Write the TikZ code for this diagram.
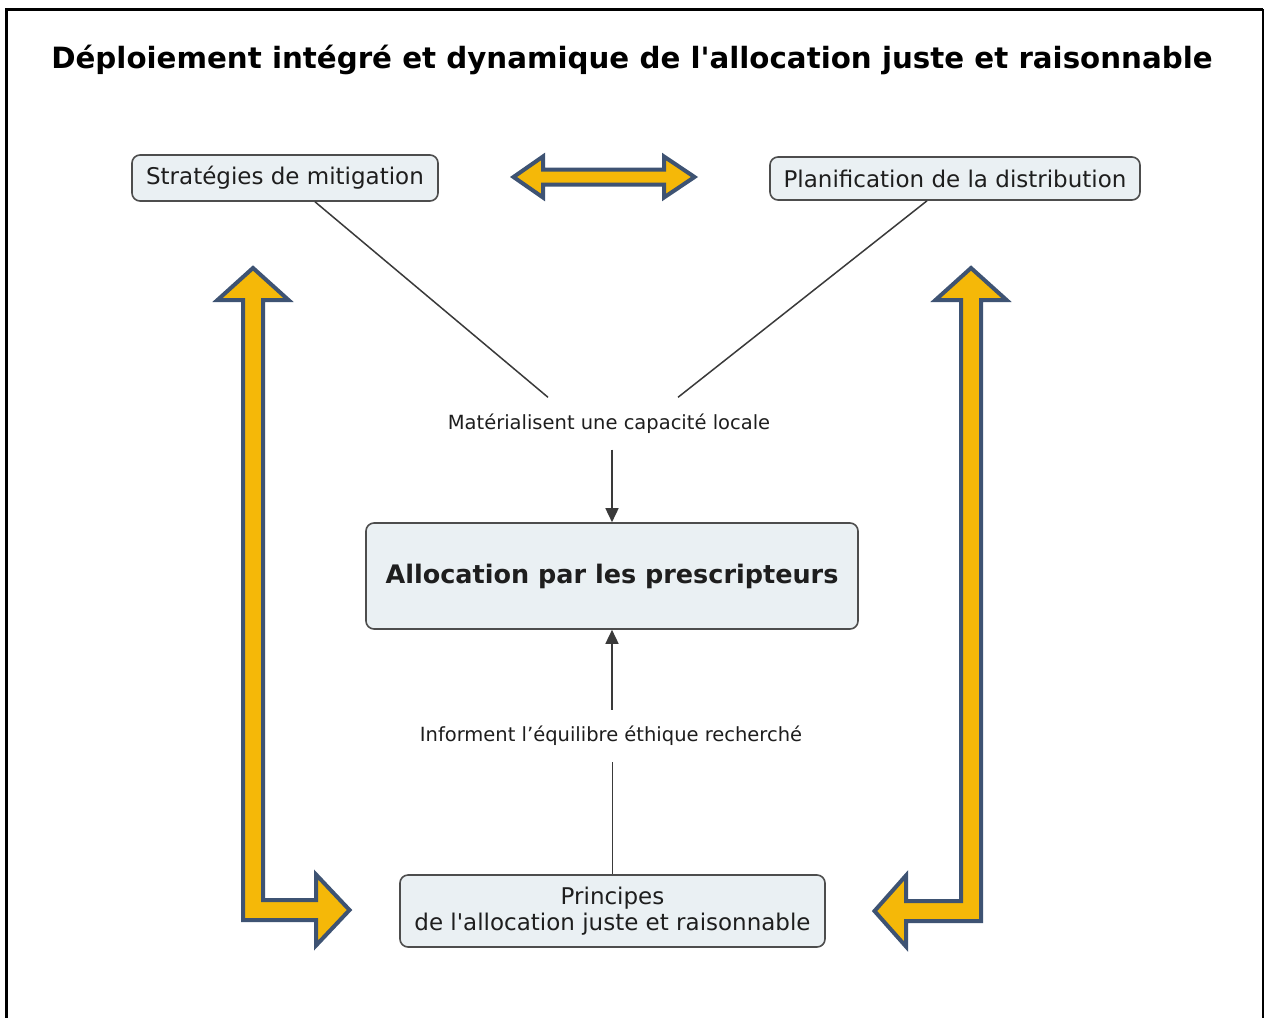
\documentclass[tikz,border=0pt]{standalone}
\usepackage{fontspec}
\setmainfont{DejaVu Sans}
\usetikzlibrary{arrows.meta,calc}
\definecolor{boxfill}{HTML}{EAF0F3}
\definecolor{boxline}{HTML}{4D4D4D}
\definecolor{gold}{HTML}{F5B808}
\definecolor{slate}{HTML}{3E5373}
\definecolor{conncol}{HTML}{3A3A3A}
\definecolor{txt}{HTML}{1E1E1E}
\begin{document}
\begin{tikzpicture}[x=1pt,y=-1pt,
  box/.style={draw=boxline, line width=1.6pt, fill=boxfill, rounded corners=8pt, inner sep=0pt, text=txt, align=center},
  lab/.style={inner sep=0pt, minimum height=52pt, text=txt, font=\fontsize{19.5}{23}\selectfont},
  conn/.style={draw=conncol, line width=1.5pt},
  tip/.style={-{Triangle[length=14pt,width=13pt]}},
  bigarrow/.style={fill=gold, draw=slate, line width=4pt, line join=miter}]
\useasboundingbox (0,0) rectangle (1265,1017);
\fill[white] (0,0) rectangle (1265,1017);
% frame
\draw[line width=3pt] (6,1020) -- (6,9) -- (1263,9);
\draw[line width=2pt] (1263,9) -- (1263,1020);
% title
\node[font=\fontsize{29.3}{34}\selectfont\bfseries, anchor=base, inner sep=0pt] (title) at (632,68) {Déploiement intégré et dynamique de l\textquotesingle allocation juste et raisonnable};
% boxes
\node[box, minimum width=306pt, minimum height=46pt, font=\fontsize{23}{27}\selectfont] (s1) at (285,178) {Stratégies de mitigation};
\node[box, minimum width=370pt, minimum height=43pt, font=\fontsize{23}{27}\selectfont] (s2) at (955,178.5) {Planification de la distribution};
\node[box, minimum width=492pt, minimum height=106pt, font=\fontsize{25.5}{30}\selectfont\bfseries] (cb) at (612,576) {Allocation par les prescripteurs};
\node[box, minimum width=425pt, minimum height=72pt, font=\fontsize{23}{26.5}\selectfont] (pb) at (612.5,911) {Principes\\de l\textquotesingle allocation juste et raisonnable};
% labels
\node[lab] (l1) at (609,423.5) {Matérialisent une capacité locale};
\node[lab] (l2) at (611,736) {Informent l’équilibre éthique recherché};
% connectors
\draw[conn] ([xshift=30pt]s1.south) -- ([xshift=-61pt]l1.north);
\draw[conn] ([xshift=-28pt]s2.south) -- ([xshift=69pt]l1.north);
\draw[conn, tip] (l1.south -| cb.north) -- (cb.north);
\draw[conn, tip] (l2.north -| cb.south) -- (cb.south);
\draw[conn] (l2.south -| pb.north) -- (pb.north);
% big arrows
\draw[bigarrow] (513.5,177) -- (543,156.5) -- (543,169.5) -- (664,169.5) -- (664,156.5) -- (694.5,177) -- (664,197.5) -- (664,184.5) -- (543,184.5) -- (543,197.5) -- cycle;
\draw[bigarrow] (253,268) -- (288.5,300) -- (263,300) -- (263,900) -- (316,900) -- (316,874.5) -- (349.5,910) -- (316,945.5) -- (316,920) -- (243,920) -- (243,300) -- (217.5,300) -- cycle;
\draw[bigarrow] (971,268) -- (1006.5,300) -- (981,300) -- (981,921) -- (906,921) -- (906,946.5) -- (874.5,911) -- (906,875.5) -- (906,901) -- (961,901) -- (961,300) -- (935.5,300) -- cycle;
\end{tikzpicture}
\end{document}
